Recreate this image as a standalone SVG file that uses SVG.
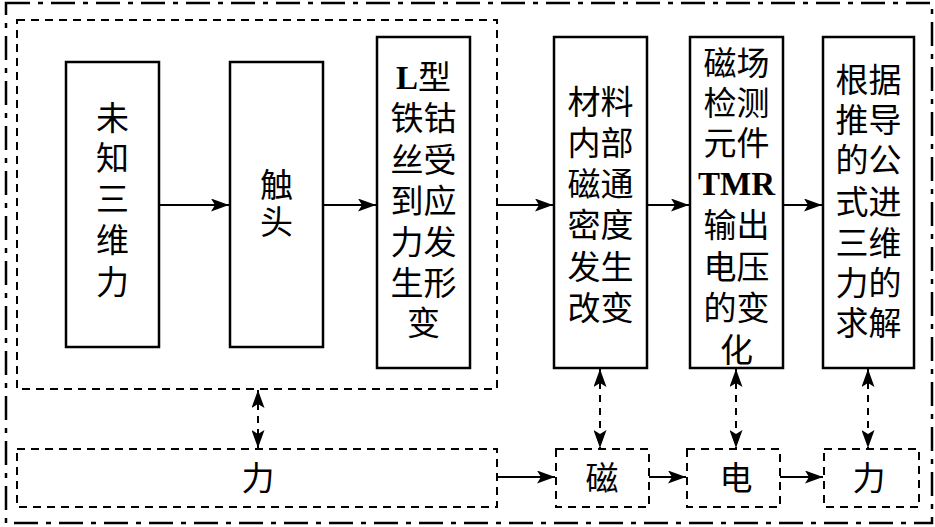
<svg xmlns="http://www.w3.org/2000/svg" width="935" height="527" viewBox="0 0 935 527">
<style>
.box{fill:none;stroke:#000;stroke-width:2.5}
.dbox{fill:none;stroke:#000;stroke-width:2;stroke-dasharray:8 6}
.outer{fill:none;stroke:#000;stroke-width:2.5;stroke-dasharray:24 8 5 8}
.t{font-family:'Liberation Serif','Noto Sans CJK SC',serif;font-size:33px;text-anchor:middle;fill:#000}
.b{font-weight:bold}
.ln{stroke:#000;stroke-width:2;fill:none}
.dl{stroke:#000;stroke-width:2;fill:none;stroke-dasharray:7 6}
</style>
<defs>
<marker id="ah" markerUnits="userSpaceOnUse" markerWidth="18" markerHeight="13" refX="18" refY="6.5" orient="auto-start-reverse" viewBox="0 0 18 13">
<path d="M0,0 L18,6.5 L0,13 L4,6.5 z" fill="#000"/>
</marker>
</defs>
<rect width="935" height="527" fill="#fff"/>
<g id="outer-frame"><rect class="outer" x="6" y="3" width="926" height="520"/></g>
<g id="group-mech"><rect class="dbox" x="17" y="20" width="480" height="369"/></g>
<g id="n1">
<rect class="box" x="66" y="62" width="93" height="285"/>
<text class="t" x="112.5"><tspan x="112.5" y="130">未</tspan><tspan x="112.5" y="170">知</tspan><tspan x="112.5" y="211">三</tspan><tspan x="112.5" y="252">维</tspan><tspan x="112.5" y="294">力</tspan></text>
</g>
<g id="n2">
<rect class="box" x="230" y="62" width="93" height="285"/>
<text class="t"><tspan x="276.5" y="197">触</tspan><tspan x="276.5" y="234">头</tspan></text>
</g>
<g id="n3">
<rect class="box" x="377" y="37" width="93" height="331"/>
<text class="t"><tspan x="423.5" y="89"><tspan class="b">L</tspan>型</tspan><tspan x="423.5" y="130">铁钴</tspan><tspan x="423.5" y="172">丝受</tspan><tspan x="423.5" y="213">到应</tspan><tspan x="423.5" y="254">力发</tspan><tspan x="423.5" y="295">生形</tspan><tspan x="423.5" y="335">变</tspan></text>
</g>
<g id="n4">
<rect class="box" x="554" y="37" width="93" height="331"/>
<text class="t"><tspan x="600.5" y="114">材料</tspan><tspan x="600.5" y="155">内部</tspan><tspan x="600.5" y="196">磁通</tspan><tspan x="600.5" y="237">密度</tspan><tspan x="600.5" y="279">发生</tspan><tspan x="600.5" y="320">改变</tspan></text>
</g>
<g id="n5">
<rect class="box" x="690" y="37" width="93" height="331"/>
<text class="t"><tspan x="736.5" y="75">磁场</tspan><tspan x="736.5" y="115">检测</tspan><tspan x="736.5" y="155">元件</tspan><tspan x="736.5" y="195" class="b">TMR</tspan><tspan x="736.5" y="237">输出</tspan><tspan x="736.5" y="279">电压</tspan><tspan x="736.5" y="320">的变</tspan><tspan x="736.5" y="362">化</tspan></text>
</g>
<g id="n6">
<rect class="box" x="823" y="37" width="91" height="331"/>
<text class="t"><tspan x="868.5" y="92">根据</tspan><tspan x="868.5" y="132">推导</tspan><tspan x="868.5" y="172">的公</tspan><tspan x="868.5" y="214">式进</tspan><tspan x="868.5" y="255">三维</tspan><tspan x="868.5" y="295">力的</tspan><tspan x="868.5" y="335">求解</tspan></text>
</g>
<g id="b1"><rect class="dbox" x="17" y="449" width="480" height="58"/><text class="t" x="258" y="490">力</text></g>
<g id="b2"><rect class="dbox" x="556" y="449" width="93" height="58"/><text class="t" x="602" y="490">磁</text></g>
<g id="b3"><rect class="dbox" x="687" y="449" width="93" height="58"/><text class="t" x="736" y="490">电</text></g>
<g id="b4"><rect class="dbox" x="824" y="449" width="95" height="58"/><text class="t" x="869" y="490">力</text></g>
<g id="connectors">
<line class="ln" x1="159" y1="205" x2="229" y2="205" marker-end="url(#ah)"/>
<line class="ln" x1="323" y1="205" x2="376" y2="205" marker-end="url(#ah)"/>
<line class="ln" x1="498" y1="205" x2="553" y2="205" marker-end="url(#ah)"/>
<line class="ln" x1="647" y1="205" x2="689" y2="205" marker-end="url(#ah)"/>
<line class="ln" x1="783" y1="205" x2="822" y2="205" marker-end="url(#ah)"/>
<line class="ln" x1="498" y1="477" x2="555" y2="477" marker-end="url(#ah)"/>
<line class="ln" x1="649" y1="477" x2="686" y2="477" marker-end="url(#ah)"/>
<line class="ln" x1="780" y1="477" x2="823" y2="477" marker-end="url(#ah)"/>
<line class="dl" x1="258" y1="390" x2="258" y2="448" marker-start="url(#ah)" marker-end="url(#ah)"/>
<line class="dl" x1="600" y1="369" x2="600" y2="448" marker-start="url(#ah)" marker-end="url(#ah)"/>
<line class="dl" x1="736" y1="369" x2="736" y2="448" marker-start="url(#ah)" marker-end="url(#ah)"/>
<line class="dl" x1="868" y1="369" x2="868" y2="448" marker-start="url(#ah)" marker-end="url(#ah)"/>
</g>
</svg>
